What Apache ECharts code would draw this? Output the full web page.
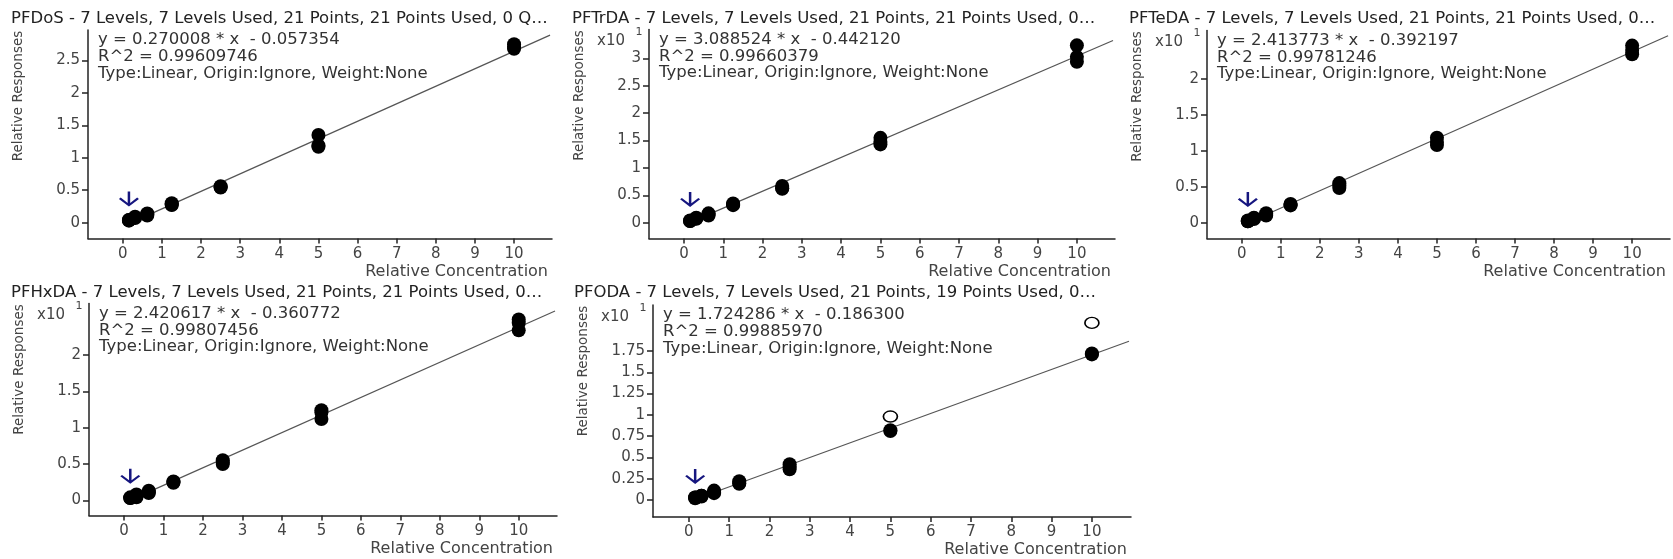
<!DOCTYPE html>
<html>
<head>
<meta charset="utf-8">
<script src="https://cdn.jsdelivr.net/npm/echarts@6/dist/echarts.min.js"></script>
<style>
html, body { margin: 0; padding: 0; background: #fff; }
#main { width: 1673px; height: 559px; }
</style>
</head>
<body>
<div id="main"></div>
<script>
// calibration levels, 3 replicates each
var levels = [0.15625, 0.3125, 0.625, 1.25, 2.5, 5, 10];
var xTicks = [0, 1, 2, 3, 4, 5, 6, 7, 8, 9, 10];

// relative responses as shown on each plot (x10^1 where the axis says so)
var pfdosResp  = [[0.04, 0.04, 0.03], [0.09, 0.08, 0.07], [0.14, 0.13, 0.11], [0.30, 0.28, 0.27], [0.56, 0.55, 0.54], [1.35, 1.19, 1.17], [2.75, 2.71, 2.68]];
var pftrdaResp = [[0.04, 0.03, 0.03], [0.09, 0.08, 0.07], [0.17, 0.15, 0.13], [0.35, 0.33, 0.32], [0.67, 0.63, 0.62], [1.55, 1.48, 1.43], [3.24, 3.03, 2.94]];
var pftedaResp = [[0.03, 0.02, 0.02], [0.07, 0.06, 0.05], [0.13, 0.11, 0.10], [0.26, 0.25, 0.24], [0.55, 0.52, 0.48], [1.18, 1.12, 1.08], [2.46, 2.40, 2.34]];
var pfhxdaResp = [[0.04, 0.03, 0.03], [0.08, 0.06, 0.04], [0.13, 0.11, 0.10], [0.26, 0.25, 0.24], [0.55, 0.52, 0.50], [1.24, 1.21, 1.12], [2.49, 2.44, 2.34]];
var pfodaResp  = [[0.03, 0.03, 0.02], [0.05, 0.05, 0.04], [0.11, 0.09, 0.08], [0.22, 0.20, 0.19], [0.42, 0.39, 0.36], [0.82, 0.81], [1.72, 1.71]];
var pfodaExcluded = [[5, 0.98], [10, 2.08]];

var yTicksPfdos  = [0, 0.5, 1, 1.5, 2, 2.5];
var yTicksPftrda = [0, 0.5, 1, 1.5, 2, 2.5, 3];
var yTicksPfteda = [0, 0.5, 1, 1.5, 2];
var yTicksPfhxda = [0, 0.5, 1, 1.5, 2];
var yTicksPfoda  = [0, 0.25, 0.5, 0.75, 1, 1.25, 1.5, 1.75];

var titles = [
    'PFDoS - 7 Levels, 7 Levels Used, 21 Points, 21 Points Used, 0 Q\u2026',
    'PFTrDA - 7 Levels, 7 Levels Used, 21 Points, 21 Points Used, 0\u2026',
    'PFTeDA - 7 Levels, 7 Levels Used, 21 Points, 21 Points Used, 0\u2026',
    'PFHxDA - 7 Levels, 7 Levels Used, 21 Points, 21 Points Used, 0\u2026',
    'PFODA - 7 Levels, 7 Levels Used, 21 Points, 19 Points Used, 0\u2026'
];
var slopes = [0.270008, 3.088524, 2.413773, 2.420617, 1.724286];
var intercepts = [-0.057354, -0.442120, -0.392197, -0.360772, -0.186300];
var r2 = ['0.99609746', '0.99660379', '0.99781246', '0.99807456', '0.99885970'];

var FONT = "'DejaVu Sans', sans-serif";
var xMin = -0.89, xMax = 10.97;

// layout: box = [axisLeft, axisTop, axisRight, axisBottom]
var panels = [
    {resp: pfdosResp,  yTicks: yTicksPfdos,  scale: 1,  yMin: -0.245, yMax: 2.97, box: [88, 30, 552, 238.5],    titleX: 11},
    {resp: pftrdaResp, yTicks: yTicksPftrda, scale: 10, yMin: -0.29,  yMax: 3.53, box: [649, 29.5, 1115, 238.5], titleX: 572},
    {resp: pftedaResp, yTicks: yTicksPfteda, scale: 10, yMin: -0.22,  yMax: 2.67, box: [1207, 30.5, 1670, 238.5], titleX: 1129},
    {resp: pfhxdaResp, yTicks: yTicksPfhxda, scale: 10, yMin: -0.21,  yMax: 2.71, box: [89, 303.5, 557, 515.5],  titleX: 11},
    {resp: pfodaResp,  yTicks: yTicksPfoda,  scale: 10, yMin: -0.2,   yMax: 2.29, box: [653, 305, 1131, 517],    titleX: 574, excluded: pfodaExcluded}
];

var arrowPath = 'path://M7,0 L9,0 L9,12 L14.6,6.4 L16,7.8 L8,15.8 L0,7.8 L1.4,6.4 L7,12 Z';

function fmt(v) {
    var s = Math.abs(v).toFixed(6);
    return (v < 0 ? '- ' : '+ ') + s;
}

var option = {
    animation: false,
    backgroundColor: '#fff',
    grid: [], xAxis: [], yAxis: [], series: [], graphic: []
};

panels.forEach(function (p, i) {
    var b = p.box;
    option.grid.push({left: b[0], top: b[1], width: b[2] - b[0], height: b[3] - b[1]});

    option.xAxis.push({
        type: 'value', gridIndex: i, min: xMin, max: xMax,
        axisLine: {show: true, onZero: false, lineStyle: {color: '#222', width: 1.5}},
        axisTick: {show: true, length: 5, customValues: xTicks, lineStyle: {color: '#222', width: 1.5}},
        axisLabel: {customValues: xTicks, fontFamily: FONT, fontSize: 15, color: '#444', margin: 8},
        splitLine: {show: false}
    });
    option.yAxis.push({
        type: 'value', gridIndex: i, min: p.yMin, max: p.yMax,
        axisLine: {show: true, onZero: false, lineStyle: {color: '#222', width: 1.5}},
        axisTick: {show: true, length: 6, customValues: p.yTicks, lineStyle: {color: '#222', width: 1.5}},
        axisLabel: {customValues: p.yTicks, fontFamily: FONT, fontSize: 15, color: '#444', margin: 8},
        splitLine: {show: false}
    });

    // regression line from the fitted equation
    var f = function (x) { return (slopes[i] * x + intercepts[i]) / p.scale; };
    var xEnd = xMax - 0.05;
    option.series.push({
        type: 'line', xAxisIndex: i, yAxisIndex: i, symbol: 'none', z: 2,
        lineStyle: {color: '#555', width: 1.2},
        data: [[levels[0], f(levels[0])], [xEnd, f(xEnd)]]
    });

    var pts = [];
    p.resp.forEach(function (arr, li) {
        arr.forEach(function (v) { pts.push([levels[li], v]); });
    });
    option.series.push({
        type: 'scatter', xAxisIndex: i, yAxisIndex: i, z: 3,
        symbol: 'circle', symbolSize: 14,
        itemStyle: {color: '#000', opacity: 1},
        data: pts
    });

    if (p.excluded) {
        option.series.push({
            type: 'scatter', xAxisIndex: i, yAxisIndex: i, z: 3,
            symbol: 'circle', symbolSize: [14, 11],
            itemStyle: {color: '#fff', borderColor: '#000', borderWidth: 1.5, opacity: 1},
            data: p.excluded
        });
    }

    // blue arrow over the lowest level
    option.series.push({
        type: 'scatter', xAxisIndex: i, yAxisIndex: i, z: 4,
        symbol: arrowPath, symbolSize: [20, 15], symbolOffset: [0, -21],
        itemStyle: {color: '#16167f', opacity: 1},
        data: [[levels[0], p.resp[0][0]]]
    });

    // texts
    var eq = 'y = ' + slopes[i].toFixed(6) + ' * x  ' + fmt(intercepts[i]);
    var lines = [eq, 'R^2 = ' + r2[i], 'Type:Linear, Origin:Ignore, Weight:None'];
    option.graphic.push({
        type: 'text', x: p.titleX, y: (i < 3 ? 18.5 : 293),
        style: {text: titles[i], font: '16.5px ' + FONT, fill: '#222', textVerticalAlign: 'middle'}
    });
    lines.forEach(function (t, k) {
        option.graphic.push({
            type: 'text', x: b[0] + 10, y: b[1] + 10 + k * 16.8,
            style: {text: t, font: '16.5px ' + FONT, fill: '#333', textVerticalAlign: 'middle'}
        });
    });
    option.graphic.push({
        type: 'text', x: b[0] - 70, y: b[1] + 66, rotation: Math.PI / 2,
        style: {text: 'Relative Responses', font: '13.5px ' + FONT, fill: '#444', textAlign: 'center', textVerticalAlign: 'middle'}
    });
    option.graphic.push({
        type: 'text', x: b[2] - 4, y: b[3] + 33,
        style: {text: 'Relative Concentration', font: '16px ' + FONT, fill: '#444', textAlign: 'right', textVerticalAlign: 'middle'}
    });
    if (p.scale === 10) {
        option.graphic.push({
            type: 'text', x: b[0] - 24, y: b[1] + 12,
            style: {text: 'x10', font: '15px ' + FONT, fill: '#444', textAlign: 'right', textVerticalAlign: 'middle'}
        });
        option.graphic.push({
            type: 'text', x: b[0] - 10, y: b[1] + 3,
            style: {text: '1', font: '11px ' + FONT, fill: '#444', textAlign: 'center', textVerticalAlign: 'middle'}
        });
    }
});

var chart = echarts.init(document.getElementById('main'));
chart.setOption(option);
</script>
</body>
</html>
